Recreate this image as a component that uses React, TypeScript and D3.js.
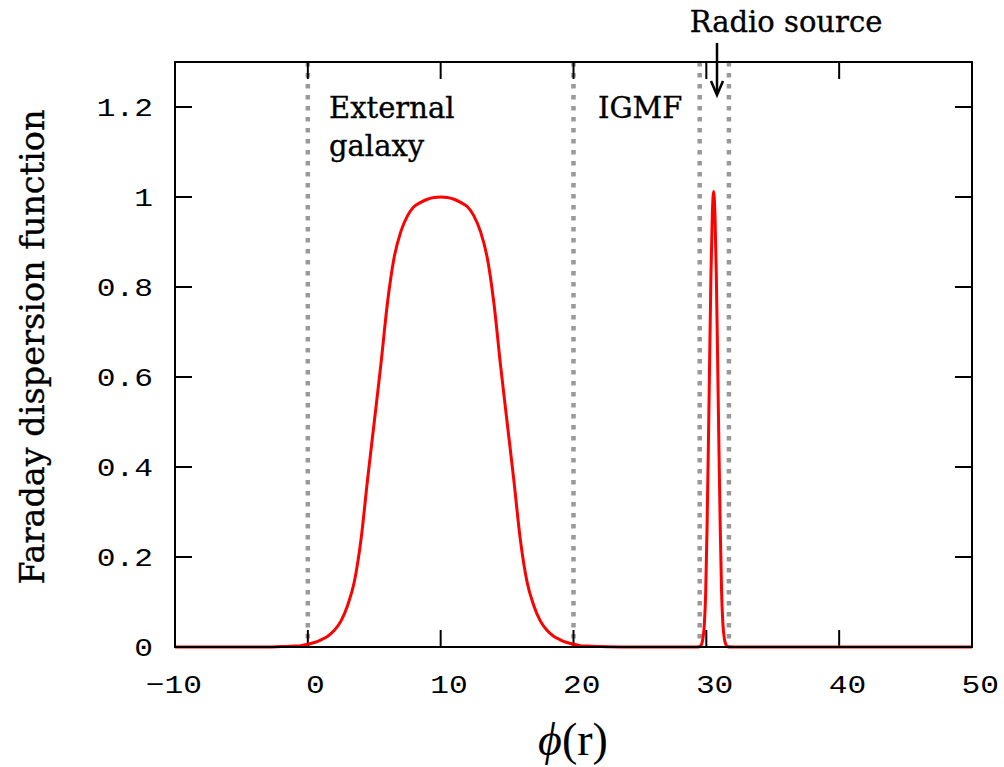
import React from "react";
import * as d3 from "d3";

// ---- data ----
const phiValues = [
  -10, -6, -3, -2, -1, -0.5, 0, 0.5, 1, 1.5, 2, 2.5, 3, 3.5, 4, 4.5, 5, 5.5,
  6, 6.5, 7, 7.5, 8, 8.5, 9, 9.5, 10, 10.5, 11, 11.5, 12, 12.5, 13, 13.5, 14,
  14.5, 15, 15.5, 16, 16.5, 17, 17.5, 18, 18.5, 19, 19.5, 20, 20.5, 21, 22, 24,
  27, 29.4, 29.55, 29.65, 29.75, 29.85, 29.95, 30.05, 30.15, 30.25, 30.35,
  30.45, 30.55, 30.65, 30.75, 30.85, 30.95, 31.05, 31.15, 31.25, 31.35, 31.45,
  31.55, 31.7, 33, 40, 50,
];
const fdfValues = [
  0, 0, 0, 0.001, 0.002, 0.003, 0.006, 0.01, 0.016, 0.024, 0.037, 0.058,
  0.093, 0.145, 0.238, 0.373, 0.5, 0.628, 0.766, 0.866, 0.923, 0.958, 0.979,
  0.988, 0.995, 0.999, 1.0, 0.999, 0.995, 0.988, 0.979, 0.958, 0.923, 0.866,
  0.766, 0.628, 0.5, 0.373, 0.238, 0.145, 0.093, 0.058, 0.037, 0.024, 0.016,
  0.01, 0.006, 0.003, 0.002, 0.001, 0, 0, 0, 0.002, 0.007, 0.02, 0.05, 0.12,
  0.26, 0.44, 0.64, 0.83, 0.96, 1.012, 0.96, 0.83, 0.64, 0.44, 0.26, 0.12,
  0.05, 0.02, 0.007, 0.002, 0, 0, 0, 0,
];
const regionBounds = [0, 20, 29.5, 31.7];
const xTickValues = [-10, 0, 10, 20, 30, 40, 50];
const xTickLabels = ["\u221210", "0", "10", "20", "30", "40", "50"];
const yTickValues = [0, 0.2, 0.4, 0.6, 0.8, 1, 1.2];
const yTickLabels = ["0", "0.2", "0.4", "0.6", "0.8", "1", "1.2"];

const W = 1004;
const H = 767;
const L = 175;
const R = 972;
const T = 62;
const B = 647;

export default function App() {
  const x = d3.scaleLinear().domain([-10, 50]).range([L, R]);
  const y = d3.scaleLinear().domain([0, 1.3]).range([B, T]);
  const pts = phiValues.map((p, i) => [p, fdfValues[i]] as [number, number]);
  const line = d3
    .line<[number, number]>()
    .x((d) => x(d[0]))
    .y((d) => y(d[1]))
    .curve(d3.curveMonotoneX);

  const tickLen = 17;
  const mono = "'Liberation Mono', monospace";
  const serif = "'DejaVu Serif', serif";
  const sx = 1.2;

  return (
    <svg
      width={W}
      height={H}
      style={{ position: "absolute", left: 0, top: 0, background: "#fff" }}
    >
      <rect x={0} y={0} width={W} height={H} fill="#fff" />
      {/* region separators */}
      {regionBounds.map((b, i) => (
        <line
          key={"rb" + i}
          x1={x(b)}
          x2={x(b)}
          y1={T}
          y2={B}
          stroke="#999999"
          strokeWidth={4.5}
          strokeDasharray="4.5 6.5"
        />
      ))}
      {/* ticks */}
      {xTickValues.map((v, i) => (
        <g key={"xt" + i}>
          <line x1={x(v)} x2={x(v)} y1={B} y2={B - tickLen} stroke="#000" strokeWidth={2} />
          <line x1={x(v)} x2={x(v)} y1={T} y2={T + tickLen} stroke="#000" strokeWidth={2} />
          <g transform={`translate(${x(v) + (xTickLabels[i].length === 1 ? 17 : 27)},693) scale(${sx},1)`}>
            <text textAnchor="end" fontFamily={mono} fontSize={26} fill="#000">
              {xTickLabels[i]}
            </text>
          </g>
        </g>
      ))}
      {yTickValues.map((v, i) => (
        <g key={"yt" + i}>
          <line x1={L} x2={L + tickLen} y1={y(v)} y2={y(v)} stroke="#000" strokeWidth={2} />
          <line x1={R} x2={R - tickLen} y1={y(v)} y2={y(v)} stroke="#000" strokeWidth={2} />
          <g transform={`translate(153,${y(v) + 9}) scale(${sx},1)`}>
            <text textAnchor="end" fontFamily={mono} fontSize={26} fill="#000">
              {yTickLabels[i]}
            </text>
          </g>
        </g>
      ))}
      {/* curve */}
      <path d={line(pts) || ""} fill="none" stroke="#ff0000" strokeWidth={3} strokeLinejoin="round" />
      {/* frame */}
      <rect x={L} y={T} width={R - L} height={B - T} fill="none" stroke="#000" strokeWidth={2} />
      {/* annotations */}
      <g fontFamily={serif} fontSize={29} fill="#000" stroke="#000" strokeWidth={0.35}>
        <text x={329} y={118}>External</text>
        <text x={329} y={156}>galaxy</text>
        <text x={598} y={118}>IGMF</text>
        <text x={786} y={32} textAnchor="middle">
          Radio source
        </text>
      </g>
      <line x1={717} x2={717} y1={43} y2={93} stroke="#000" strokeWidth={2.5} />
      <path d="M711,81 L717,95 L723,81" fill="none" stroke="#000" strokeWidth={2.5} />
      {/* axis titles */}
      <text
        transform={`translate(44,347) rotate(-90)`}
        textAnchor="middle"
        fontFamily={serif}
        fontSize={33.5}
        fill="#000"
        stroke="#000"
        strokeWidth={0.35}
      >
        Faraday dispersion function
      </text>
      <text x={573} y={755} textAnchor="middle" fontFamily="'Liberation Serif', serif" fontSize={46} fill="#000">
        <tspan fontStyle="italic">{"\u03D5"}</tspan>
        <tspan>(r)</tspan>
      </text>
    </svg>
  );
}
